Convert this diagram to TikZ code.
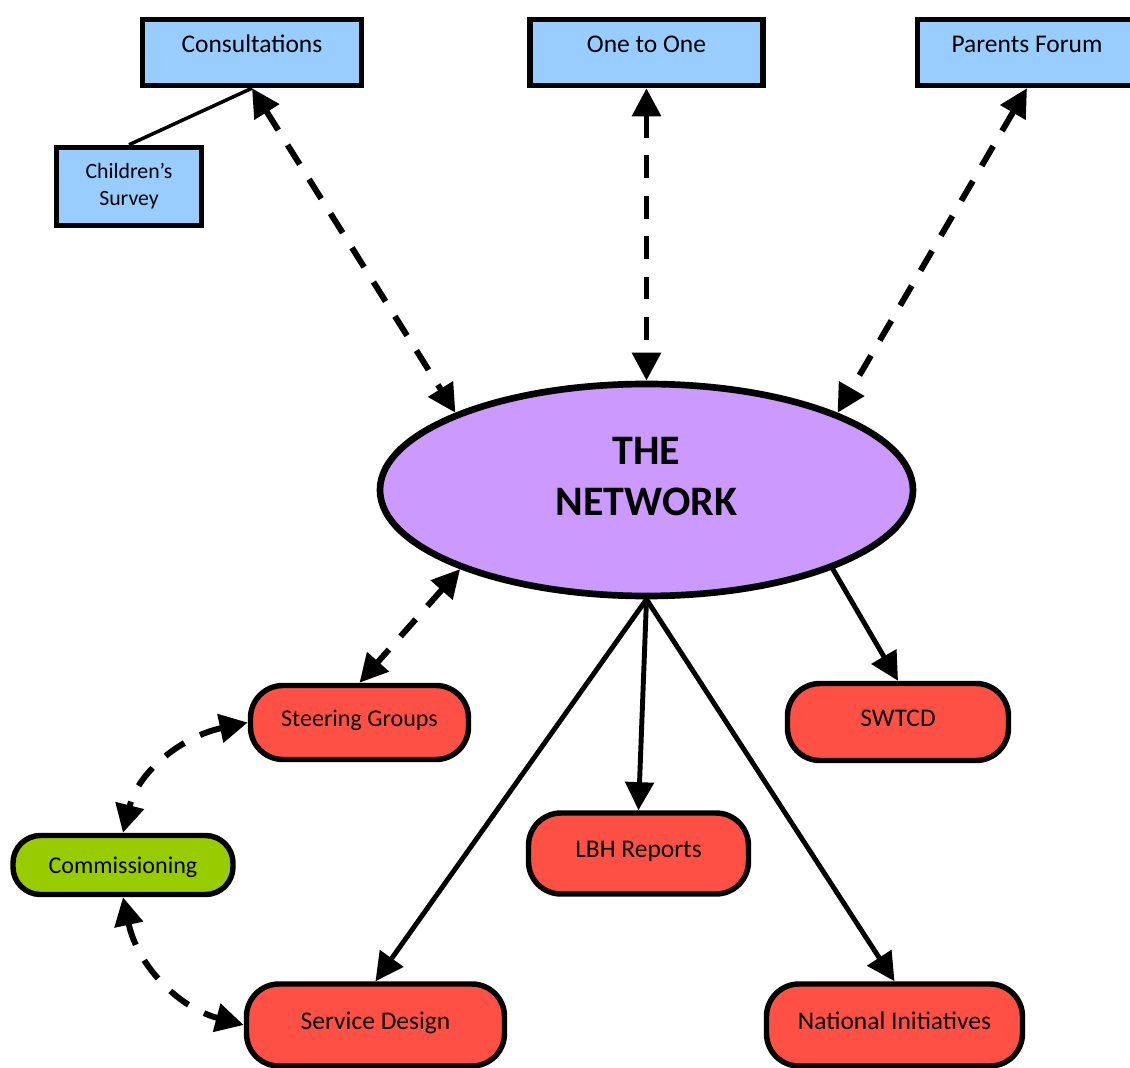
\documentclass[tikz,border=0pt]{standalone}
\usepackage{fontspec}
\setmainfont{Carlito}
\usepackage{tikz}
\usetikzlibrary{positioning, arrows.meta, shapes.geometric}
\definecolor{boxblue}{HTML}{99CCFF}
\definecolor{netpurple}{HTML}{CC99FF}
\definecolor{pillred}{HTML}{FF5046}
\definecolor{pillgreen}{HTML}{99CC00}

\begin{document}
\begin{tikzpicture}[>={Triangle[length=16pt, width=16pt]}, on grid,
    every node/.style={font=\fontsize{14.5}{17}\selectfont},
    box/.style={draw, line width=3.1pt, fill=boxblue, minimum width=4.38cm, minimum height=1.32cm, text height=9.5pt, text depth=9.5pt},
    pill/.style={draw, line width=3.1pt, fill=pillred, rounded corners=0.65cm, minimum width=4.4cm, minimum height=1.6cm, text height=10pt, text depth=5.4pt},
    link/.style={line width=2.8pt},
    dashlink/.style={line width=3.4pt, dash pattern=on 13pt off 10pt}]
  \useasboundingbox (-12.93,-11.56) rectangle (9.67,9.8);

  \node[ellipse, draw, line width=3.8pt, fill=netpurple, minimum width=10.66cm, minimum height=4.24cm,
    label={[align=center, font=\bfseries\fontsize{23.9}{29}\selectfont, yshift=0.27cm]center:THE\\NETWORK}] (net) at (0,0) {};

  % feedback into the network
  \node[box, above left=8.75cm and 7.89cm of net] (cons) {Consultations};
  \node[box, above=8.75cm of net, minimum width=4.66cm] (one) {One to One};
  \node[box, above right=8.75cm and 7.61cm of net] (forum) {Parents Forum};
  \node[draw, line width=3.1pt, fill=boxblue, below left=2.68cm and 2.46cm of cons, minimum width=2.9cm, minimum height=1.56cm,
    align=center, font=\fontsize{12.4}{15.4}\selectfont] (survey) {Children’s\\Survey};

  % outputs
  \node[pill, below left=4.65cm and 5.74cm of net, minimum width=4.36cm, minimum height=1.48cm,
    font=\fontsize{13.7}{16}\selectfont] (steer) {Steering Groups};
  \node[pill, below right=4.64cm and 5.03cm of net, minimum width=4.42cm, minimum height=1.54cm] (swtcd) {SWTCD};
  \node[pill, below left=7.27cm and 0.16cm of net, minimum height=1.62cm] (lbh) {LBH Reports};
  \node[pill, below left=10.7cm and 5.42cm of net, minimum width=5.16cm, minimum height=1.64cm] (design) {Service Design};
  \node[pill, below right=10.7cm and 4.96cm of net, minimum width=5.12cm, minimum height=1.64cm] (national) {National Initiatives};
  \node[pill, fill=pillgreen, below left=7.5cm and 10.47cm of net, minimum height=1.18cm, rounded corners=0.55cm,
    font=\fontsize{13.7}{16}\selectfont, text height=12pt, text depth=1.8pt] (comm) {Commissioning};

  \draw[line width=2pt] (survey.north) -- (cons.south);
  \draw[dashlink, <->] (cons.south) -- (net.158);
  \draw[dashlink, <->] (one.south) -- (net.north);
  \draw[dashlink, <->] (forum.south) -- (net.22);
  \draw[dashlink, <->] (net.203) -- (steer.north);
  \draw[dashlink, <->] (steer.west) to[out=192, in=76] (comm.north);
  \draw[dashlink, <->] (comm.south) to[out=-78, in=165] (design.west);

  \draw[link, ->] (net.south) -- (design.north);
  \draw[link, ->] (net.south) -- (lbh.north);
  \draw[link, ->] (net.south) -- (national.north);
  \draw[link, ->] (net.337) -- (swtcd.north);
\end{tikzpicture}
\end{document}
